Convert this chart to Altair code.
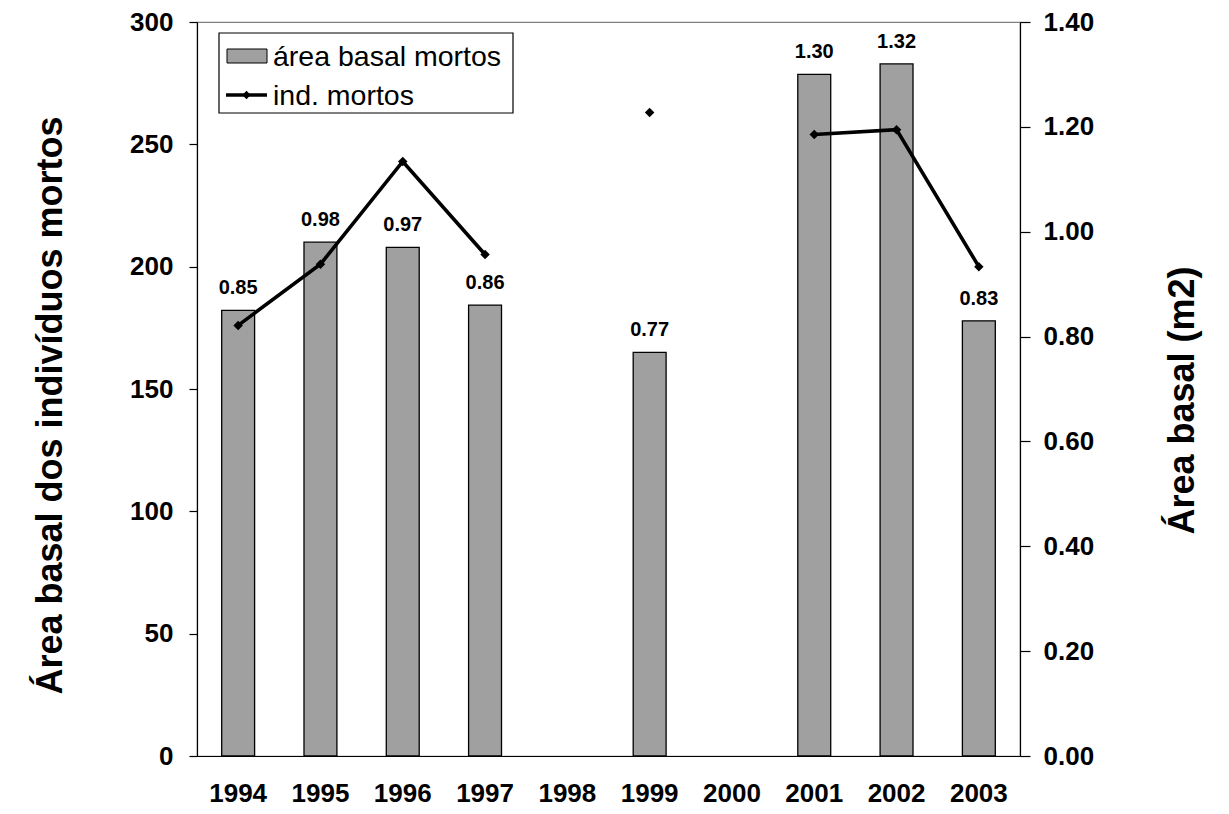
import altair as alt
import pandas as pd

years = ["1994", "1995", "1996", "1997", "1998", "1999", "2000", "2001", "2002", "2003"]
basal_area = [0.85, 0.98, 0.97, 0.86, None, 0.77, None, 1.30, 1.32, 0.83]
dead_ind = [176, 201, 243, 205, None, 263, None, 254, 256, 200]
legend_labels = ["área basal mortos", "ind. mortos"]
left_title = "Área basal dos indivíduos mortos"
right_title = "Área basal (m2)"

df = pd.DataFrame({"ano": years, "area": basal_area, "ind": dead_ind})
one = pd.DataFrame({"k": [0]})

FONT = "Liberation Sans"
W, H = 823, 734
BAR_FILL = "#a0a0a0"

xscale = alt.Scale(domain=years, paddingInner=0.6, paddingOuter=0.3)
xaxis = alt.Axis(title=None, labelAngle=0, ticks=False, labelPadding=24,
                 labelFontSize=26, labelFontWeight="bold", labelColor="black",
                 domainColor="black", domainWidth=1.2)
xenc = alt.X("ano:N", sort=years, scale=xscale, axis=xaxis)

yright = alt.Scale(domain=[0, 1.4], nice=False, zero=True)
yleft = alt.Scale(domain=[0, 300], nice=False, zero=True)

bars = alt.Chart(df).mark_bar(fill=BAR_FILL, stroke="black", strokeWidth=1.3).encode(
    x=xenc,
    y=alt.Y("area:Q", scale=yright,
            axis=alt.Axis(orient="right", title=right_title, values=[0, 0.2, 0.4, 0.6, 0.8, 1.0, 1.2, 1.4],
                          format=".2f", grid=False, tickSize=10, tickColor="black", tickWidth=1.2,
                          labelPadding=13, labelFontSize=26, labelFontWeight="bold", labelColor="black",
                          domainColor="black", domainWidth=1.2,
                          titleFontSize=36, titleFontWeight="bold", titleColor="black",
                          titleX=162, titleY=378, titleBaseline="middle", titleAngle=270)),
)

labels = alt.Chart(df).mark_text(font=FONT, fontSize=20, fontWeight="bold", color="black",
                                 baseline="bottom", dy=-12).encode(
    x=xenc,
    y=alt.Y("area:Q", scale=yright, axis=None),
    text=alt.Text("area:Q", format=".2f"),
)

line = alt.Chart(df).mark_line(color="black", strokeWidth=3.6, invalid="break-paths-show-domains").encode(
    x=xenc,
    y=alt.Y("ind:Q", scale=yleft,
            axis=alt.Axis(orient="left", title=left_title, values=[0, 50, 100, 150, 200, 250, 300],
                          grid=False, tickSize=8, tickColor="black", tickWidth=1.2,
                          labelPadding=16, labelFontSize=26, labelFontWeight="bold", labelColor="black",
                          domainColor="black", domainWidth=1.2,
                          titleFontSize=36, titleFontWeight="bold", titleColor="black",
                          titleX=-147, titleY=383, titleBaseline="middle", titleAngle=270)),
)

pts = alt.Chart(df).mark_point(shape="diamond", filled=True, color="black", size=90, opacity=1).encode(
    x=xenc,
    y=alt.Y("ind:Q", scale=yleft, axis=None),
)

# legend (drawn manually, inside plot area)
leg_box = alt.Chart(one).mark_rect(fill="white", stroke="black", strokeWidth=1.2).encode(
    x=alt.value(22), x2=alt.value(316), y=alt.value(11), y2=alt.value(91))
leg_bar = alt.Chart(one).mark_rect(fill=BAR_FILL, stroke="black", strokeWidth=1).encode(
    x=alt.value(30), x2=alt.value(70), y=alt.value(27), y2=alt.value(41))
leg_t1 = alt.Chart(one).mark_text(text=legend_labels[0], font=FONT, fontSize=28.5, align="left",
                                  baseline="alphabetic", color="black").encode(
    x=alt.value(76), y=alt.value(44))
leg_line = alt.Chart(one).mark_rule(color="black", strokeWidth=3.6).encode(
    x=alt.value(29), x2=alt.value(70), y=alt.value(73))
leg_pt = alt.Chart(one).mark_point(shape="diamond", filled=True, color="black", size=70, opacity=1).encode(
    x=alt.value(49.5), y=alt.value(73))
leg_t2 = alt.Chart(one).mark_text(text=legend_labels[1], font=FONT, fontSize=28.5, align="left",
                                  baseline="alphabetic", color="black").encode(
    x=alt.value(76), y=alt.value(83))

chart = alt.layer(
    bars, labels, line, pts, leg_box, leg_bar, leg_t1, leg_line, leg_pt, leg_t2
).resolve_scale(y="independent").properties(
    width=W, height=H,
    autosize=alt.AutoSizeParams(type="none"),
    padding={"left": 189, "top": 14, "right": 200, "bottom": 50},
).configure(font=FONT).configure_view(stroke="#808080", strokeWidth=1.2).configure_axis(
    labelFont=FONT, titleFont=FONT)

chart.save("out.html", embed_options={"renderer": "svg", "actions": False})
